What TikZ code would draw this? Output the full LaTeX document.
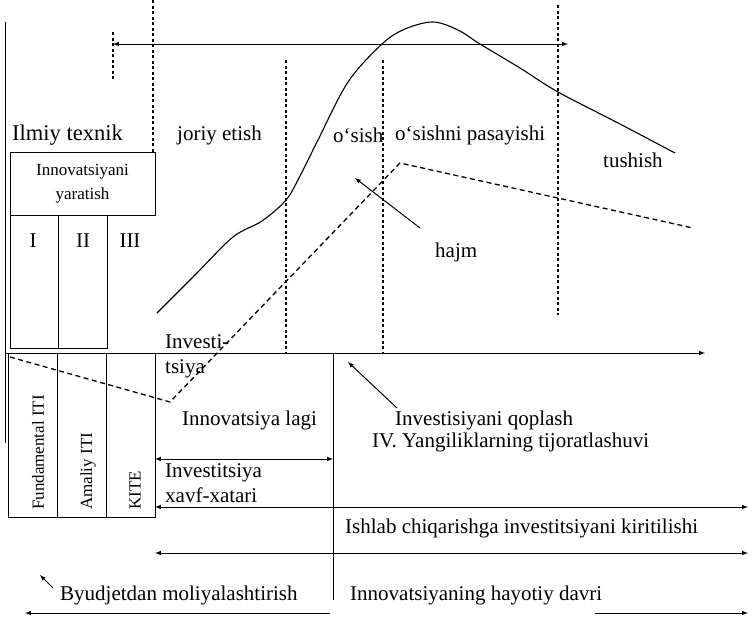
\documentclass[tikz,border=0pt]{standalone}
\usepackage{fontspec}
\setmainfont{Liberation Serif}
\tikzset{
        lbl/.style={inner sep=0pt, anchor=west, font=\fontsize{21}{25}\selectfont},
        roman/.style={inner sep=0pt, font=\fontsize{21}{25}\selectfont},
        boxtext/.style={inner sep=0pt, align=center, font=\fontsize{17}{24}\selectfont},
        vtext/.style={inner sep=0pt, rotate=90, anchor=west, font=\fontsize{17}{20}\selectfont},
        frame/.style={draw=black, line width=0.9pt},
        phase/.style={draw=black, line width=1.1pt, dash pattern=on 3pt off 2.5pt},
        invest/.style={draw=black, line width=1.3pt, dash pattern=on 5pt off 3.5pt},
        lifecurve/.style={draw=black, line width=1.1pt},
        span/.style={draw=black, line width=1pt, <->, >=latex},
        pointer/.style={draw=black, line width=1pt, ->, >=latex}
          }
\begin{document}
\begin{tikzpicture}[x=1pt, y=-1pt]
        \useasboundingbox (0,0) rectangle (754,619);
        % axes
        \coordinate (axtop) at (5,22);
        \coordinate (axbot) at (5,443);
        \draw[frame] (axtop) -- (axbot);
        \coordinate (tl) at (5,353);
        \coordinate (tr) at (705,353);
        \draw[pointer] (tl) -- (tr);
        \coordinate (ttl) at (113,44);
        \coordinate (ttr) at (568,44);
        \draw[span] (ttl) -- (ttr);
        % phase borders
        \coordinate (p0a) at (113,32); \coordinate (p0b) at (113,80);
        \coordinate (p1a) at (153,0);  \coordinate (p1b) at (153,152);
        \coordinate (p2a) at (286,60); \coordinate (p2b) at (286,353);
        \coordinate (p3a) at (383,60); \coordinate (p3b) at (383,353);
        \coordinate (p4a) at (558,5);  \coordinate (p4b) at (558,315);
        \foreach \a/\b in {p0a/p0b, p1a/p1b, p2a/p2b, p3a/p3b, p4a/p4b}
          \draw[phase] (\a) -- (\b);
        % life cycle curve
        \draw[lifecurve] plot[smooth, tension=0.55] coordinates {(157,313) (195,275) (233,237) (262,221) (286,200) (300,176) (318,140) (348,82) (382,44) (405,29) (433,22) (458,30) (480,44) (520,68) (558,92) (620,124) (675,153)};
        % investment line
        \coordinate (i0) at (10,357);
        \coordinate (i1) at (170,402);
        \coordinate (i2) at (400,163);
        \coordinate (i3) at (693,228);
        \draw[invest] (i0) -- (i1) -- (i2) -- (i3);
        % upper boxes
        \node[frame, boxtext, minimum width=145pt, minimum height=63pt] (create) at (82.5,183.5) {Innovatsiyani\\yaratish};
        \draw[frame] (10,215) rectangle (58,348);
        \draw[frame] (58,215) rectangle (107,348);
        \node[roman] (st1) at (33,241) {I};
        \node[roman] (st2) at (83,241) {II};
        \node[roman] (st3) at (130,241) {III};
        % lower boxes
        \draw[frame] (8,353) rectangle (57,517);
        \draw[frame] (57,353) rectangle (106,517);
        \draw[frame] (106,353) rectangle (155,517);
        \node[vtext] (fund) at (38,510) {Fundamental ITI};
        \node[vtext] (amal) at (88,510) {Amaliy ITI};
        \node[vtext] (kite) at (135,510) {KITE};
        \coordinate (va) at (333,353);
        \coordinate (vb) at (333,600);
        \draw[frame] (va) -- (vb);
        % spans
        \coordinate (s1l) at (155,459); \coordinate (s1r) at (333,459);
        \coordinate (s2l) at (155,507); \coordinate (s2r) at (748,507);
        \coordinate (s3l) at (155,553); \coordinate (s3r) at (748,553);
        \coordinate (s4l) at (25,613);  \coordinate (s4m) at (330,613);
        \coordinate (s5l) at (595,613); \coordinate (s5r) at (748,613);
        \draw[span] (s1l) -- (s1r);
        \draw[span] (s2l) -- (s2r);
        \draw[span] (s3l) -- (s3r);
        \draw[pointer] (s4m) -- (s4l);
        \draw[pointer] (s5l) -- (s5r);
        % labels
        \node[lbl, font=\fontsize{22.5}{25}\selectfont] (ilmiy) at (12,135) {Ilmiy texnik};
        \node[lbl] (joriy) at (177,135) {joriy etish};
        \node[lbl] (osish) at (333,135) {o‘sish};
        \node[lbl] (pasay) at (395,135) {o‘sishni pasayishi};
        \node[lbl] (tush) at (603,160) {tushish};
        \node[lbl] (hajm) at (435,252) {hajm};
        \node[lbl, align=left] (inv) at (165,356) {Investi-\\tsiya};
        \node[lbl] (lag) at (182,420) {Innovatsiya lagi};
        \node[lbl] (qopl) at (395,420) {Investisiyani qoplash};
        \node[lbl] (tijor) at (372,442) {IV. Yangiliklarning tijoratlashuvi};
        \node[lbl, align=left] (xavf) at (165,483) {Investitsiya\\xavf-xatari};
        \node[lbl] (ishlab) at (345,528) {Ishlab chiqarishga investitsiyani kiritilishi};
        \node[lbl] (byud) at (60,595) {Byudjetdan moliyalashtirish};
        \node[lbl] (hayot) at (350,595) {Innovatsiyaning hayotiy davri};
        % pointers
        \coordinate (h0) at (420,228); \coordinate (h1) at (355,178);
        \coordinate (q0) at (397,408); \coordinate (q1) at (348,362);
        \coordinate (b0) at (53,588);  \coordinate (b1) at (40,575);
        \draw[pointer] (h0) -- (h1);
        \draw[pointer] (q0) -- (q1);
        \draw[pointer] (b0) -- (b1);
\end{tikzpicture}
\end{document}
